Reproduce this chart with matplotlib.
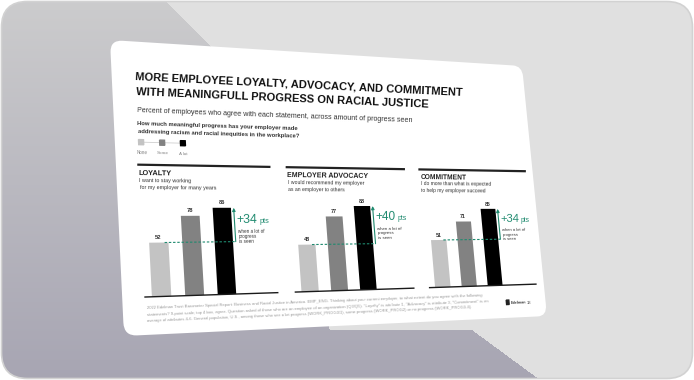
import numpy as np
import matplotlib
matplotlib.use("Agg")
import matplotlib.pyplot as plt
from matplotlib.transforms import Transform, Affine2D
from matplotlib.patches import FancyBboxPatch, FancyArrowPatch, Rectangle
from matplotlib.lines import Line2D
from matplotlib.path import Path

plt.rcParams['font.family'] = ['Liberation Sans', 'DejaVu Sans']

# ---- chart content ----
title_lines = ["MORE EMPLOYEE LOYALTY, ADVOCACY, AND COMMITMENT",
               "WITH MEANINGFULL PROGRESS ON RACIAL JUSTICE"]
subtitle = "Percent of employees who agree with each statement, across amount of progress seen"
question = ["How much meaningful progress has your employer made",
            "addressing racism and racial inequities in the workplace?"]
levels = ["None", "Some", "A lot"]
panel_names = ["LOYALTY", "EMPLOYER ADVOCACY", "COMMITMENT"]
statements = [["I want to stay working", "for my employer for many years"],
              ["I would recommend my employer", "as an employer to others"],
              ["I do more than what is expected", "to help my employer succeed"]]
loyalty = [52, 78, 86]
advocacy = [48, 77, 88]
commitment = [51, 71, 85]
note = ["when a lot of", "progress", "is seen"]
source = [
    "2022 Edelman Trust Barometer Special Report: Business and Racial Justice in America. EMP_ENG. Thinking about your current employer, to what extent do you agree with the following",
    "statements? 9-point scale; top 4 box, agree. Question asked of those who are an employee of an organization (Q3/Q5). \"Loyalty\" is attribute 1, \"Advocacy\" is attribute 3, \"Commitment\" is an",
    "average of attributes 4-6. General population, U.S., among those who see a lot progress (WORK_PROG3/1), some progress (WORK_PROG2) or no progress (WORK_PROG3-4).",
]
page = "13"

series = [loyalty, advocacy, commitment]
bar_colors = ['#c3c3c3', '#828282', '#000000']
green = '#1f8a6f'

# ---- canvas ----
W, H = 694, 380
fig = plt.figure(figsize=(W / 100, H / 100), dpi=100)
ax = fig.add_axes([0, 0, 1, 1])
ax.axis('off')


class Persp(Transform):
    """projective warp from flat slide units to picture pixels"""
    input_dims = 2
    output_dims = 2
    has_inverse = True

    def __init__(self, m):
        super().__init__()
        self.m = m

    def transform_non_affine(self, values):
        v = np.atleast_2d(np.asarray(values, float))
        p = v @ self.m[:, :2].T + self.m[:, 2]
        return p[:, :2] / p[:, 2:]

    def inverted(self):
        return Persp(np.linalg.inv(self.m))


SW, SH = 500, 296
src = [(0, 0), (SW, 0), (SW, SH), (0, SH)]
dst = [(110, 40), (522, 66), (547, 316), (124, 336)]
A, b = [], []
for (x, y), (X, Y) in zip(src, dst):
    A.append([x, y, 1, 0, 0, 0, -X * x, -X * y]); b.append(X)
    A.append([0, 0, 0, x, y, 1, -Y * x, -Y * y]); b.append(Y)
M = np.append(np.linalg.solve(np.array(A, float), np.array(b, float)), 1).reshape(3, 3)
slide = Persp(M) + ax.transData


def warp(x, y):
    p = M @ np.array([x, y, 1.0])
    return p[:2] / p[2]


def local(x, y):
    # angle of the slide's x direction, vertical and horizontal px per slide unit
    p0, p1, p2 = warp(x, y), warp(x + 10, y), warp(x, y + 10)
    ang = np.degrees(np.arctan2(-(p1[1] - p0[1]), p1[0] - p0[0]))
    return ang, np.hypot(*(p2 - p0)) / 10, np.hypot(*(p1 - p0)) / 10


def stext(x, y, s, size, **kw):
    ang, sc, _ = local(x, y)
    kw.setdefault('ha', 'left')
    kw.setdefault('va', 'baseline')
    kw.setdefault('color', '#222222')
    return ax.text(x, y, s, transform=slide, rotation=ang, rotation_mode='anchor',
                   fontsize=size * sc, zorder=6, **kw)


def sline(xs, ys, **kw):
    ax.add_line(Line2D(xs, ys, transform=slide, **kw))


# ---- background ----
yy, xx = np.mgrid[0:H, 0:W] + 0.5
img = np.empty((H, W, 3))
img[:] = [0.88, 0.88, 0.88]
t = (yy / H)[..., None]
shade = np.array([0.80, 0.80, 0.805]) * (1 - t) + np.array([0.655, 0.647, 0.70]) * t
shadow = Path([(0, 0), (164, 0), (215, 50), (330, 330), (472, 330), (540, 380), (0, 380)])
inside = shadow.contains_points(np.column_stack([xx.ravel(), yy.ravel()])).reshape(H, W)
img[inside] = shade[inside]
frame = FancyBboxPatch((1.5, 1.5), W - 3, H - 3, boxstyle='round,pad=0,rounding_size=26',
                       fc='none', ec='#d2d2d2', lw=1.2, zorder=8)
ax.add_patch(frame)
im = ax.imshow(img, extent=(0, W, H, 0), interpolation='bilinear', zorder=0, aspect='auto')
im.set_clip_path(frame)
ax.set_xlim(0, W)
ax.set_ylim(H, 0)
ax.set_autoscale_on(False)

# ---- slide card ----
ax.add_patch(FancyBboxPatch((0, 0), SW, SH, boxstyle='round,pad=0,rounding_size=13',
                            fc='white', ec='none', transform=slide, zorder=1))

stext(24, 40, title_lines[0], 8.3, weight='bold', color='#111111')
stext(24, 55.5, title_lines[1], 8.3, weight='bold', color='#111111')
stext(24, 73, subtitle, 5.3, color='#333333')
stext(24, 86.5, question[0], 4.3, weight='bold', color='#333333')
stext(24, 94.5, question[1], 4.3, weight='bold', color='#333333')

# legend
leg_x = [27, 49, 71]
sline([leg_x[0], leg_x[-1]], [104, 104], color='#cfcfcf', lw=0.6, zorder=2)
for lx, c, lab in zip(leg_x, bar_colors, levels):
    ax.add_patch(Rectangle((lx - 2.6, 101.4), 5.2, 5.2, transform=slide, color=c, zorder=3))
    stext(lx, 116, lab, 3.3, ha='center', color='#808080')

# ---- panels ----
panel_x = [23, 185, 347]
PW = 142
BASE = 259
VS = 1.03
bar_off = [17, 51.5, 86]
BW = 20
arr_off = bar_off[2] + BW / 2 + 3

for i, vals in enumerate(series):
    x0 = panel_x[i]
    ptr = Affine2D().scale(1, -VS).translate(x0, BASE) + slide
    sline([x0, x0 + PW], [127, 127], color='#222222', lw=1.6, zorder=3)
    stext(x0, 137.5, panel_names[i], 5.4, weight='bold')
    stext(x0, 145, statements[i][0], 3.9, color='#333333')
    stext(x0, 152, statements[i][1], 3.9, color='#333333')

    ax.bar(bar_off, vals, width=BW, color=bar_colors, transform=ptr, zorder=3)
    ax.add_line(Line2D([0, PW], [0, 0], transform=ptr, color='#1a1a1a', lw=1.0, zorder=4))
    for bx, v in zip(bar_off, vals):
        stext(x0 + bx, BASE - VS * v - 3.5, str(v), 4.3, ha='center', weight='bold', color='#333333')

    gain = vals[2] - vals[0]
    ax.add_line(Line2D([bar_off[0] + BW / 2 - 4, arr_off], [vals[0], vals[0]], transform=ptr,
                       color=green, lw=0.8, ls=(0, (2.2, 1.6)), zorder=5))
    ax.add_patch(FancyArrowPatch((arr_off, vals[0]), (arr_off, vals[2]), transform=ptr,
                                 arrowstyle='-|>', mutation_scale=4.5, color=green, lw=0.8,
                                 shrinkA=0, shrinkB=0, zorder=5))
    ytop = BASE - VS * vals[2]
    tx = x0 + arr_off + 2.5
    _, sc, hs = local(tx, ytop + 15.5)
    stext(tx, ytop + 15.5, f"+{gain}", 9.2, color=green)
    stext(tx + 23.5 * sc / hs, ytop + 15.5, "pts", 5.5, color=green)
    for k, ln in enumerate(note):
        stext(tx + 1, ytop + 26 + 5.2 * k, ln, 3.4, color='#333333')

# ---- footer ----
for k, ln in enumerate(source):
    stext(24, 271 + 6.3 * k, ln, 2.9, color='#9a9a9a')
ax.add_patch(Rectangle((446, 276), 3.5, 5, transform=slide, color='#222222', zorder=3))
stext(451, 281, "Edelman", 3.0, weight='bold', color='#444444')
stext(474, 281, page, 3.4, color='#444444')

ax.set_xlim(0, W)
ax.set_ylim(H, 0)
fig.savefig("out.png", dpi=100, facecolor='white')
